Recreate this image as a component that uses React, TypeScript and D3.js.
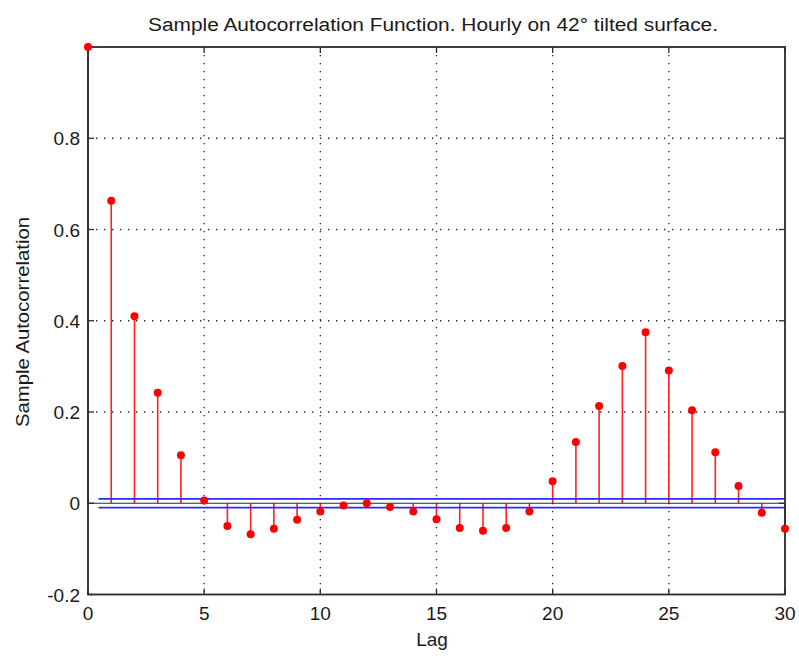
import React from "react";
import * as d3 from "d3";

const lags = d3.range(0, 31);
const acf = [
  1.0, 0.663, 0.41, 0.242, 0.105, 0.006, -0.05, -0.068, -0.056, -0.036,
  -0.018, -0.005, 0.0, -0.008, -0.018, -0.035, -0.054, -0.06, -0.054, -0.018,
  0.048, 0.134, 0.213, 0.301, 0.375, 0.291, 0.204, 0.112, 0.038, -0.021, -0.056,
];
const bound = 0.0098;
const xTicks = [0, 5, 10, 15, 20, 25, 30];
const yTicks = [-0.2, 0, 0.2, 0.4, 0.6, 0.8];
const yTickLabels = ["-0.2", "0", "0.2", "0.4", "0.6", "0.8"];
const title = "Sample Autocorrelation Function. Hourly on 42° tilted surface.";
const xLabel = "Lag";
const yLabel = "Sample Autocorrelation";

const W = 799;
const H = 656;
const L = 88, R = 785, T = 47, B = 594.5;

export default function App() {
  const x = d3.scaleLinear().domain([0, 30]).range([L, R]);
  const y = d3.scaleLinear().domain([-0.2, 1.0]).range([B, T]);
  const font = "'Liberation Sans', Arial, sans-serif";
  const axisColor = "#2b2b2b";
  return (
    <svg width={W} height={H} style={{ position: "absolute", left: 0, top: 0, background: "#fff" }}>
      <rect x={0} y={0} width={W} height={H} fill="#fff" />
      {/* grid */}
      {xTicks.filter((t) => t > 0 && t < 30).map((t) => (
        <line key={"gx" + t} x1={x(t)} x2={x(t)} y1={T} y2={B} stroke="#222" strokeWidth={1.3} strokeDasharray="1.3,6.7" />
      ))}
      {yTicks.filter((t) => t > 0).map((t) => (
        <line key={"gy" + t} x1={L} x2={R} y1={y(t)} y2={y(t)} stroke="#222" strokeWidth={1.3} strokeDasharray="1.3,6.7" />
      ))}
      {/* stems */}
      {lags.map((l, i) => (
        <line key={"s" + l} x1={x(l)} x2={x(l)} y1={y(0)} y2={y(acf[i])} stroke="#ff2020" strokeWidth={1.6} />
      ))}
      {/* baseline */}
      <line x1={L} x2={R} y1={y(0)} y2={y(0)} stroke={axisColor} strokeWidth={1.2} />
      {/* bounds */}
      {[bound, -bound].map((b, i) => (
        <line key={"b" + i} x1={x(0.45)} x2={R} y1={y(b)} y2={y(b)} stroke="#2a2aff" strokeWidth={1.8} />
      ))}
      {/* axes box */}
      <rect x={L} y={T} width={R - L} height={B - T} fill="none" stroke={axisColor} strokeWidth={1.8} />
      {/* ticks */}
      {xTicks.map((t) => (
        <g key={"xt" + t}>
          <line x1={x(t)} x2={x(t)} y1={B} y2={B - 6} stroke={axisColor} strokeWidth={1.3} />
          <line x1={x(t)} x2={x(t)} y1={T} y2={T + 6} stroke={axisColor} strokeWidth={1.3} />
          <text x={x(t)} y={620} textAnchor="middle" fontFamily={font} fontSize={19} fill="#1a1a1a">{t}</text>
        </g>
      ))}
      {yTicks.map((t, i) => (
        <g key={"yt" + t}>
          <line x1={L} x2={L + 6} y1={y(t)} y2={y(t)} stroke={axisColor} strokeWidth={1.3} />
          <line x1={R} x2={R - 6} y1={y(t)} y2={y(t)} stroke={axisColor} strokeWidth={1.3} />
          <text x={80} y={y(t) + 7} textAnchor="end" fontFamily={font} fontSize={19} fill="#1a1a1a">{yTickLabels[i]}</text>
        </g>
      ))}
      {/* markers */}
      {lags.map((l, i) => (
        <circle key={"m" + l} cx={x(l)} cy={y(acf[i])} r={4} fill="#ff0000" />
      ))}
      <text x={433} y={31} textAnchor="middle" fontFamily={font} fontSize={18} fill="#1a1a1a" textLength={570} lengthAdjust="spacingAndGlyphs">{title}</text>
      <text x={432} y={646} textAnchor="middle" fontFamily={font} fontSize={19} fill="#1a1a1a">{xLabel}</text>
      <text transform={`translate(29,322) rotate(-90)`} textAnchor="middle" fontFamily={font} fontSize={19} fill="#1a1a1a" textLength={210} lengthAdjust="spacingAndGlyphs">{yLabel}</text>
    </svg>
  );
}
